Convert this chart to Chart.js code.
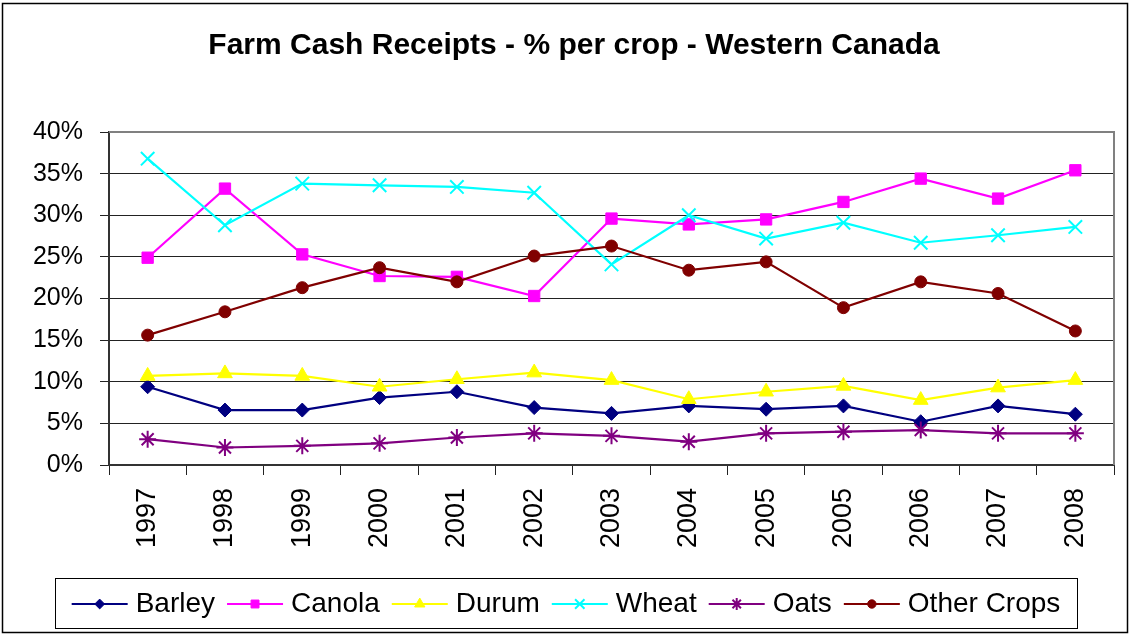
<!DOCTYPE html>
<html>
<head>
<meta charset="utf-8">
<script src="https://cdn.jsdelivr.net/npm/chart.js@4.4.0/dist/chart.umd.min.js"></script>
<style>
  html, body { margin: 0; padding: 0; background: #fff; }
  #wrap { width: 1130px; height: 635px; }
</style>
</head>
<body>
<div id="wrap"><canvas id="chart" width="1130" height="635"></canvas></div>
<script>
// Data (percent of farm cash receipts)
const years = ['1997', '1998', '1999', '2000', '2001', '2002', '2003', '2004', '2005', '2005', '2006', '2007', '2008'];
const barley = [9.4, 6.6, 6.6, 8.1, 8.8, 6.9, 6.2, 7.1, 6.7, 7.1, 5.2, 7.1, 6.1];
const canola = [24.9, 33.2, 25.3, 22.7, 22.6, 20.3, 29.6, 28.9, 29.5, 31.6, 34.4, 32.0, 35.4];
const durum = [10.7, 11.0, 10.7, 9.4, 10.3, 11.1, 10.2, 7.9, 8.8, 9.5, 7.8, 9.3, 10.2];
const wheat = [36.8, 28.8, 33.8, 33.6, 33.4, 32.7, 24.1, 30.0, 27.2, 29.1, 26.7, 27.6, 28.6];
const oats = [3.1, 2.1, 2.3, 2.6, 3.3, 3.8, 3.5, 2.8, 3.8, 4.0, 4.2, 3.8, 3.8];
const otherCrops = [15.6, 18.4, 21.3, 23.7, 22.0, 25.1, 26.3, 23.4, 24.4, 18.9, 22.0, 20.6, 16.1];

const FONT = '"Liberation Sans", Arial, sans-serif';
const TITLE = 'Farm Cash Receipts - % per crop - Western Canada';

function series(label, data, color, style, radius, bw, order) {
    return {
        label: label,
        data: data,
        borderColor: color,
        backgroundColor: color,
        borderWidth: 2.2,
        pointStyle: style,
        pointRadius: radius,
        pointHoverRadius: radius,
        pointBackgroundColor: color,
        pointBorderColor: color,
        pointBorderWidth: bw,
        tension: 0,
        order: order
    };
}

const datasets = [
    series('Barley', barley, '#000080', 'rectRot', 7, 1, 5),
    series('Canola', canola, '#FF00FF', 'rect', 8, 1, 4),
    series('Durum', durum, '#FFFF00', 'triangle', 8.5, 1, 3),
    series('Wheat', wheat, '#00FFFF', 'crossRot', 9.5, 2, 2),
    series('Oats', oats, '#800080', 'star', 8.5, 2, 1),
    series('Other Crops', otherCrops, '#800000', 'circle', 6, 1, 0)
];

// frame, title, plot border and legend box
const decorations = {
    id: 'decorations',
    beforeDatasetsDraw(chart) {
        const ctx = chart.ctx;
        const a = chart.chartArea;
        ctx.save();
        ctx.strokeStyle = '#808080';
        ctx.lineWidth = 2;
        ctx.beginPath();
        ctx.moveTo(a.left, a.top);
        ctx.lineTo(a.right, a.top);
        ctx.lineTo(a.right, a.bottom);
        ctx.stroke();
        ctx.restore();
    },
    afterDraw(chart) {
        const ctx = chart.ctx;
        ctx.save();
        // outer frame
        ctx.strokeStyle = '#000';
        ctx.lineWidth = 1.5;
        ctx.strokeRect(2.5, 3.5, 1125, 629);

        // title
        ctx.fillStyle = '#000';
        ctx.font = 'bold 30px ' + FONT;
        ctx.textAlign = 'center';
        ctx.textBaseline = 'middle';
        ctx.fillText(TITLE, 574, 46);

        // legend
        const box = { left: 55, top: 578, right: 1077, bottom: 628 };
        ctx.lineWidth = 1;
        ctx.strokeStyle = '#000';
        ctx.strokeRect(box.left + 0.5, box.top + 0.5, box.right - box.left, box.bottom - box.top);

        ctx.font = '28px ' + FONT;
        const lineLen = 56, textGap = 8, itemGap = 12;
        const widths = datasets.map(d => ctx.measureText(d.label).width);
        let total = 0;
        widths.forEach((w, i) => { total += lineLen + textGap + w + (i ? itemGap : 0); });
        let x = (box.left + box.right) / 2 - total / 2;
        const y = (box.top + box.bottom) / 2 + 1;
        datasets.forEach((d, i) => {
            ctx.strokeStyle = d.borderColor;
            ctx.fillStyle = d.borderColor;
            ctx.lineWidth = 2;
            ctx.beginPath();
            ctx.moveTo(x, y);
            ctx.lineTo(x + lineLen, y);
            ctx.stroke();
            ctx.lineWidth = d.pointBorderWidth;
            Chart.helpers.drawPoint(ctx, {
                pointStyle: d.pointStyle,
                radius: d.pointRadius * 0.7,
                borderWidth: d.pointBorderWidth,
                rotation: 0
            }, x + lineLen / 2, y);
            ctx.fillStyle = '#000';
            ctx.textAlign = 'left';
            ctx.textBaseline = 'middle';
            ctx.fillText(d.label, x + lineLen + textGap, y);
            x += lineLen + textGap + widths[i] + itemGap;
        });
        ctx.restore();
    }
};

new Chart(document.getElementById('chart'), {
    type: 'line',
    data: { labels: years, datasets: datasets },
    options: {
        responsive: false,
        animation: false,
        devicePixelRatio: 1,
        layout: { padding: { top: 132, right: 16, bottom: 80, left: 0 } },
        plugins: {
            legend: { display: false },
            title: { display: false },
            tooltip: { enabled: false }
        },
        scales: {
            x: {
                type: 'category',
                offset: true,
                grid: {
                    offset: true,
                    drawOnChartArea: false,
                    drawTicks: true,
                    tickLength: 10,
                    color: '#222'
                },
                border: { display: true, color: '#333', width: 2 },
                ticks: {
                    color: '#000',
                    font: { family: FONT, size: 27 },
                    minRotation: 90,
                    maxRotation: 90,
                    autoSkip: false,
                    padding: 13
                },
                afterFit(scale) { scale.height = 90; }
            },
            y: {
                min: 0,
                max: 40,
                grid: {
                    color: '#222',
                    lineWidth: 1,
                    drawTicks: true,
                    tickLength: 9
                },
                border: { display: true, color: '#333', width: 2 },
                ticks: {
                    stepSize: 5,
                    color: '#000',
                    font: { family: FONT, size: 25 },
                    padding: 17,
                    callback: v => v + '%'
                },
                afterFit(scale) { scale.width = 109; }
            }
        }
    },
    plugins: [decorations]
});
</script>
</body>
</html>
